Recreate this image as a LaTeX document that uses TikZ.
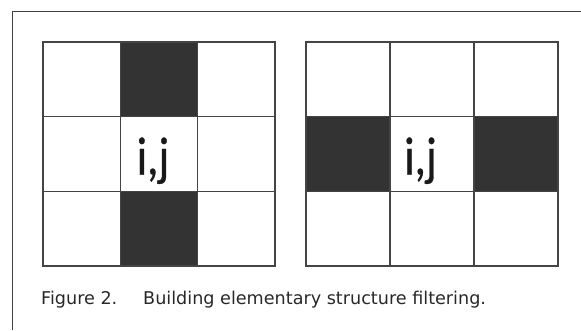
\documentclass[tikz,border=0pt]{standalone}
\usepackage{fontspec}
\setmainfont{DejaVu Sans}
\newfontfamily\celdafont[FakeStretch=0.84, FakeBold=0.6]{Carlito}
\usetikzlibrary{positioning}

\definecolor{oscuro}{RGB}{51,51,51}
\definecolor{linea}{RGB}{68,68,68}
\definecolor{texto}{RGB}{40,40,40}

\begin{document}
\begin{tikzpicture}[x=1pt, y=-1pt,
    celda/.style={draw=linea, line width=1.3pt, inner sep=0pt,
        outer sep=0pt, minimum height=74.67pt, minimum width=#1},
    etiqueta/.style={font=\celdafont\fontsize{54}{54}\selectfont, text=black!90,
        anchor=base west, inner sep=0pt},
    pie/.style={font=\fontsize{17.6}{20}\selectfont, text=texto,
        anchor=base west, inner sep=0pt}]

    \useasboundingbox (0,0) rectangle (581,330);

    % Marco
    \draw[black!75, line width=1pt] (581,11) -- (12,11) -- (12,330);

    % Rejilla izquierda: columna central oscura
    \foreach \r in {0,1,2}{
        \foreach \c in {0,1,2}{
            \pgfmathtruncatemacro{\pct}{and(\c==1,\r!=1)*100}
            \node[celda=77.33pt, fill={oscuro!\pct!white}] (L-\r-\c)
                at ({43+(\c+0.5)*77.33},{42+(\r+0.5)*74.67}) {};
        }
    }

    % Rejilla derecha: fila central oscura
    \foreach \r in {0,1,2}{
        \foreach \c in {0,1,2}{
            \pgfmathtruncatemacro{\pct}{and(\r==1,\c!=1)*100}
            \node[celda=84pt, fill={oscuro!\pct!white}] (R-\r-\c)
                at ({306+(\c+0.5)*84},{42+(\r+0.5)*74.67}) {};
        }
    }

    % Etiquetas centrales
    \node[etiqueta] (ijL) at ([xshift=-22.5pt, yshift=-20.7pt]L-1-1.center) {i,j};
    \node[etiqueta] (ijR) at ([xshift=-28pt, yshift=-20.7pt]R-1-1.center) {i,j};

    % Pie de figura
    \node[pie] (fig) at (41,304) {Figure 2.};
    \node[pie] (tit) at (143,304) {Building elementary structure filtering.};
\end{tikzpicture}
\end{document}
